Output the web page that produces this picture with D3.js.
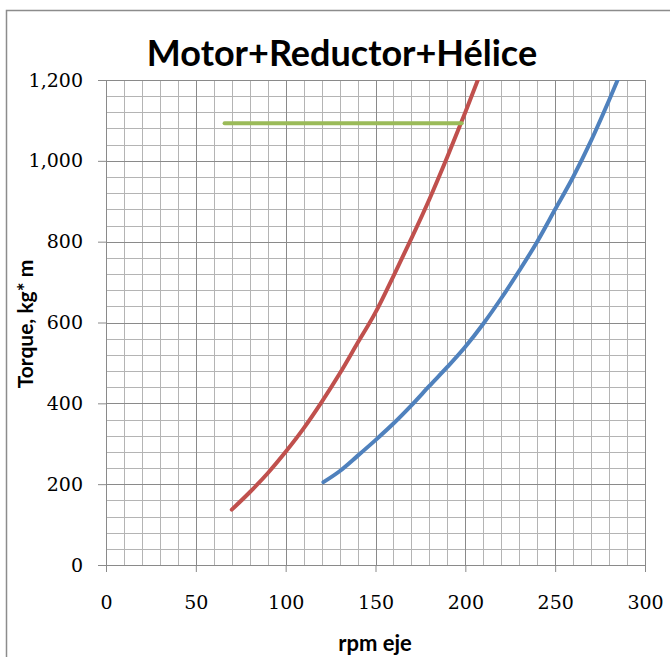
<!DOCTYPE html>
<html>
<head>
<meta charset="utf-8">
<script src="https://cdn.jsdelivr.net/npm/d3@7"></script>
<style>
  html, body { margin: 0; padding: 0; background: #fff; }
</style>
</head>
<body>
<div id="chart"></div>
<script>
const width = 670;
const height = 657;

// curve readings
const rpmRed = [70, 80, 90, 100, 110, 120, 130, 140, 150, 160, 170, 180, 190, 200, 210];
const torqueRed = [137, 180, 227, 280, 338, 403, 473, 549, 625, 715, 808, 905, 1010, 1120, 1235];

const rpmBlue = [121, 130, 140, 150, 160, 170, 180, 190, 200, 210, 220, 230, 240, 250, 260, 270, 280, 290];
const torqueBlue = [205, 232, 270, 309, 350, 395, 443, 490, 540, 597, 660, 728, 800, 880, 960, 1050, 1150, 1255];

const rpmGreen = [66, 198];
const torqueGreen = [1093, 1093];

const xTicks = [0, 50, 100, 150, 200, 250, 300];
const yTicks = [0, 200, 400, 600, 800, 1000, 1200];

const margin = { top: 80, right: 25, bottom: 92, left: 106 };
const plotW = width - margin.left - margin.right;
const plotH = height - margin.top - margin.bottom;

const x = d3.scaleLinear().domain([0, 300]).range([0, plotW]);
const y = d3.scaleLinear().domain([0, 1200]).range([plotH, 0]);

const svg = d3.select("#chart")
  .append("svg")
  .attr("width", width)
  .attr("height", height);

// chart frame
svg.append("rect")
  .attr("x", 6.5)
  .attr("y", 10.5)
  .attr("width", width + 10)
  .attr("height", height + 10)
  .attr("fill", "#fff")
  .attr("stroke", "#8c8c8c")
  .attr("stroke-width", 1.5);

svg.append("text")
  .attr("x", 342)
  .attr("y", 66)
  .attr("text-anchor", "middle")
  .attr("font-family", "Lato, 'Open Sans', sans-serif")
  .attr("font-weight", "bold")
  .attr("font-size", "36px")
  .attr("fill", "#000")
  .text("Motor+Reductor+Hélice");

const g = svg.append("g")
  .attr("transform", `translate(${margin.left},${margin.top})`);

// minor grid
g.append("g")
  .selectAll("line")
  .data(d3.range(0, 301, 10).filter(d => d % 50 !== 0))
  .join("line")
  .attr("x1", d => Math.round(x(d)) + 0.5)
  .attr("x2", d => Math.round(x(d)) + 0.5)
  .attr("y1", 0)
  .attr("y2", plotH)
  .attr("stroke", "#b4b4b4");

g.append("g")
  .selectAll("line")
  .data(d3.range(0, 1201, 40).filter(d => d % 200 !== 0))
  .join("line")
  .attr("x1", 0)
  .attr("x2", plotW)
  .attr("y1", d => Math.round(y(d)) + 0.5)
  .attr("y2", d => Math.round(y(d)) + 0.5)
  .attr("stroke", "#b4b4b4");

// major grid
g.append("g")
  .selectAll("line")
  .data(xTicks)
  .join("line")
  .attr("x1", d => Math.round(x(d)) + 0.5)
  .attr("x2", d => Math.round(x(d)) + 0.5)
  .attr("y1", 0)
  .attr("y2", plotH)
  .attr("stroke", "#8a8a8a");

g.append("g")
  .selectAll("line")
  .data(yTicks)
  .join("line")
  .attr("x1", 0)
  .attr("x2", plotW)
  .attr("y1", d => Math.round(y(d)) + 0.5)
  .attr("y2", d => Math.round(y(d)) + 0.5)
  .attr("stroke", "#8a8a8a");

// axes
const xAxis = g.append("g")
  .attr("transform", `translate(0,${plotH})`)
  .call(d3.axisBottom(x).tickValues(xTicks).tickSize(7).tickPadding(24));

const yAxis = g.append("g")
  .call(d3.axisLeft(y).tickValues(yTicks).tickSize(8).tickPadding(15).tickFormat(d3.format(",")));

[xAxis, yAxis].forEach(a => {
  a.select(".domain").attr("stroke", "#8a8a8a");
  a.selectAll(".tick line").attr("stroke", "#8a8a8a");
  a.selectAll(".tick text")
    .attr("font-family", "'DejaVu Serif', serif")
    .attr("font-size", "19px")
    .attr("fill", "#000");
});

svg.append("text")
  .attr("transform", "translate(33,324) rotate(-90)")
  .attr("text-anchor", "middle")
  .attr("font-family", "Lato, 'Open Sans', sans-serif")
  .attr("font-weight", "bold")
  .attr("font-size", "21px")
  .text("Torque, kg* m");

svg.append("text")
  .attr("x", 375)
  .attr("y", 651)
  .attr("text-anchor", "middle")
  .attr("font-family", "Lato, 'Open Sans', sans-serif")
  .attr("font-weight", "bold")
  .attr("font-size", "22px")
  .text("rpm eje");

// series
svg.append("clipPath")
  .attr("id", "plot-clip")
  .append("rect")
  .attr("width", plotW)
  .attr("height", plotH);

const line = d3.line()
  .x(d => x(d[0]))
  .y(d => y(d[1]))
  .curve(d3.curveMonotoneX);

const series = [
  { rpm: rpmRed, torque: torqueRed, color: "#c0504d" },
  { rpm: rpmBlue, torque: torqueBlue, color: "#4f81bd" },
  { rpm: rpmGreen, torque: torqueGreen, color: "#9bbb59" }
];

g.append("g")
  .attr("clip-path", "url(#plot-clip)")
  .selectAll("path")
  .data(series)
  .join("path")
  .attr("d", s => line(s.rpm.map((r, i) => [r, s.torque[i]])))
  .attr("fill", "none")
  .attr("stroke", s => s.color)
  .attr("stroke-width", 4)
  .attr("stroke-linecap", "round");
</script>
</body>
</html>
